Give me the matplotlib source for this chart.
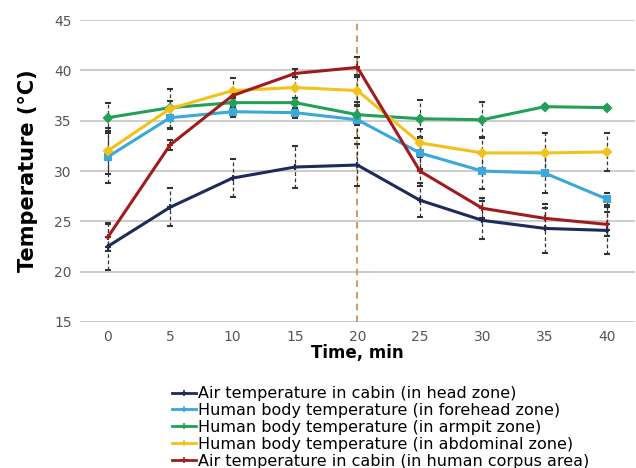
import matplotlib
matplotlib.use("Agg")
import matplotlib.pyplot as plt
from matplotlib.lines import Line2D

time = [0, 5, 10, 15, 20, 25, 30, 35, 40]

air_head = [22.5, 26.4, 29.3, 30.4, 30.6, 27.1, 25.1, 24.3, 24.1]
air_head_err = [2.3, 1.9, 1.9, 2.1, 2.1, 1.7, 1.9, 2.4, 2.3]

forehead = [31.4, 35.3, 35.9, 35.8, 35.1, 31.8, 30.0, 29.8, 27.2]
forehead_err = [2.6, 1.0, 0.5, 0.5, 1.8, 1.6, 1.8, 2.0, 0.6]

armpit = [35.3, 36.3, 36.8, 36.8, 35.6, 35.2, 35.1, 36.4, 36.3]
armpit_err = [1.5, 0.7, 0.5, 0.5, 1.0, 1.9, 1.8, 0.2, 0.2]

abdominal = [32.0, 36.2, 38.0, 38.3, 38.0, 32.8, 31.8, 31.8, 31.9]
abdominal_err = [2.3, 2.0, 1.2, 1.0, 1.5, 1.4, 1.6, 2.0, 1.9]

air_corpus = [23.4, 32.6, 37.5, 39.7, 40.3, 30.0, 26.3, 25.3, 24.7]
air_corpus_err = [1.3, 0.5, 0.6, 0.4, 1.0, 1.5, 1.0, 1.0, 1.2]

labels = [
    "Air temperature in cabin (in head zone)",
    "Human body temperature (in forehead zone)",
    "Human body temperature (in armpit zone)",
    "Human body temperature (in abdominal zone)",
    "Air temperature in cabin (in human corpus area)",
]
colors = ["#1c2a5c", "#3aa8d8", "#22a05a", "#f2c21b", "#a01b1e"]
markers = ["+", "s", "D", "D", "+"]
msizes = [5, 5, 4, 4, 5]

series = [air_head, forehead, armpit, abdominal, air_corpus]
errs = [air_head_err, forehead_err, armpit_err, abdominal_err, air_corpus_err]

fig = plt.figure(figsize=(6.36, 4.68), dpi=100)
ax = fig.add_axes([0.126, 0.312, 0.872, 0.645])

for y, e, c, m, ms, lab in zip(series, errs, colors, markers, msizes, labels):
    eb = ax.errorbar(time, y, yerr=e, color=c, lw=2.2, marker=m, ms=ms,
                     mec=c, mew=1.5, ecolor="#333333", elinewidth=0.9,
                     capsize=2.5, capthick=0.9, label=lab, zorder=3)
    for lc in eb[2]:
        lc.set_linestyle((0, (3, 2)))

ax.axvline(20, color="#c8894e", lw=1.2, ls=(0, (4, 3)), zorder=2)

ax.set_ylim(15, 45)
ax.set_xlim(-2.2, 42.2)
ax.set_yticks([15, 20, 25, 30, 35, 40, 45])
ax.set_xticks(time)
ax.grid(axis="y", color="#c8c8c8", lw=1.3)
ax.set_axisbelow(True)
for s in ax.spines.values():
    s.set_visible(False)
ax.tick_params(length=0, labelsize=10, labelcolor="#555555", pad=6)
ax.set_xlabel("Time, min", fontsize=12, fontweight="bold", labelpad=0)
ax.set_ylabel("Temperature (°C)", fontsize=15, fontweight="bold", labelpad=12)

handles = [Line2D([0], [0], color=c, lw=2, marker="+", ms=5, mew=1.2) for c in colors]
fig.legend(handles, labels, loc="upper left", bbox_to_anchor=(0.258, 0.192),
           frameon=False, fontsize=11.5, labelspacing=0.12, handlelength=1.5,
           handletextpad=0.1, borderpad=0)

fig.savefig("out.png", dpi=100, facecolor="white")
